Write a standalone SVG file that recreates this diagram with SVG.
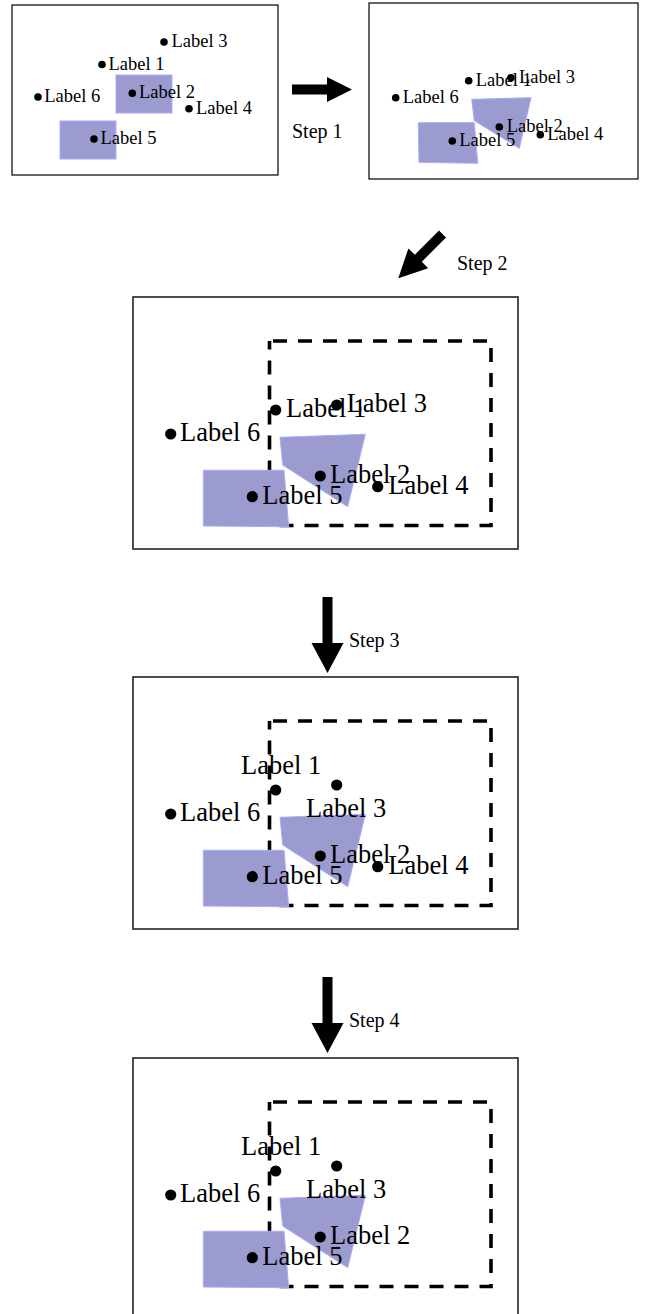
<svg xmlns="http://www.w3.org/2000/svg" width="649" height="1314" viewBox="0 0 649 1314">
<style>
.frame{fill:#fff;stroke:#000;stroke-width:1.2}
.frameL{fill:#fff;stroke:#222;stroke-width:1.6}
.area{fill:#9b9bd0;stroke:#aaaaff;stroke-width:1}
.dash{fill:none;stroke:#000;stroke-width:3.6;stroke-dasharray:14 11;stroke-dashoffset:21.5}
.s{font-family:"Liberation Serif","Times New Roman",serif;font-size:18.5px;fill:#000}
.b{font-family:"Liberation Serif","Times New Roman",serif;font-size:26.5px;fill:#000}
.st{font-family:"Liberation Serif","Times New Roman",serif;font-size:20px;fill:#000}
.arrow{fill:#000}
</style>
<rect width="649" height="1314" fill="#fff"/>

<g id="panel1">
<rect class="frame" x="12" y="5" width="266" height="170"/>
<rect class="area" x="116" y="75" width="56" height="38"/>
<rect class="area" x="60" y="121" width="56" height="38"/>
<circle cx="164" cy="42" r="3.8"/><text class="s" x="171.5" y="47">Label 3</text>
<circle cx="102" cy="64.5" r="3.8"/><text class="s" x="108.5" y="69.5">Label 1</text>
<circle cx="38" cy="97" r="3.8"/><text class="s" x="44.3" y="102">Label 6</text>
<circle cx="132.3" cy="93.3" r="3.8"/><text class="s" x="139" y="98">Label 2</text>
<circle cx="189" cy="108.7" r="3.8"/><text class="s" x="196" y="113.5">Label 4</text>
<circle cx="94" cy="139" r="3.8"/><text class="s" x="100.5" y="143.5">Label 5</text>
</g>

<g id="panel2">
<rect class="frame" x="369" y="3" width="269" height="176"/>
<polygon class="area" points="471.7,99.3 531,97.7 519.3,148.3 474.3,120.7"/>
<polygon class="area" points="418.3,122.7 474.3,122.7 477.7,163.3 419,162.3"/>
<circle cx="468.7" cy="80.7" r="3.8"/><text class="s" x="475.7" y="85.5">Label 1</text>
<circle cx="511" cy="77.7" r="3.8"/><text class="s" x="519" y="82.5">Label 3</text>
<circle cx="395.7" cy="97.7" r="3.8"/><text class="s" x="402.7" y="102.5">Label 6</text>
<circle cx="499.3" cy="127" r="3.8"/><text class="s" x="506.7" y="131.5">Label 2</text>
<circle cx="540.3" cy="134.7" r="3.8"/><text class="s" x="547.3" y="139.5">Label 4</text>
<circle cx="452.3" cy="141" r="3.8"/><text class="s" x="459.3" y="146">Label 5</text>
</g>

<g id="panel3">
<rect class="frameL" x="133" y="297" width="385" height="252"/>
<rect class="dash" x="269.5" y="341" width="221.5" height="184.5"/>
<polygon class="area" points="280,437.3 365.3,434.3 347.7,506.7 282.7,465"/>
<polygon class="area" points="203.3,470.3 284,470.3 288.7,526.7 203.3,526"/>
<circle cx="275.7" cy="410" r="5.6"/><text class="b" x="286" y="417">Label 1</text>
<circle cx="336.7" cy="405" r="5.6"/><text class="b" x="346.7" y="412">Label 3</text>
<circle cx="170.7" cy="434" r="5.6"/><text class="b" x="180" y="441">Label 6</text>
<circle cx="320.3" cy="476" r="5.6"/><text class="b" x="330" y="483">Label 2</text>
<circle cx="377.7" cy="486.7" r="5.6"/><text class="b" x="388.3" y="493.5">Label 4</text>
<circle cx="252.3" cy="496.7" r="5.6"/><text class="b" x="262.3" y="503.5">Label 5</text>
</g>

<g id="panel4" transform="translate(0,380)">
<rect class="frameL" x="133" y="297" width="385" height="252"/>
<rect class="dash" x="269.5" y="341" width="221.5" height="184.5"/>
<polygon class="area" points="280,437.3 365.3,434.3 347.7,506.7 282.7,465"/>
<polygon class="area" points="203.3,470.3 284,470.3 288.7,526.7 203.3,526"/>
<circle cx="275.7" cy="410" r="5.6"/><text class="b" x="241" y="394">Label 1</text>
<circle cx="336.7" cy="405" r="5.6"/><text class="b" x="306" y="436.7">Label 3</text>
<circle cx="170.7" cy="434" r="5.6"/><text class="b" x="180" y="441">Label 6</text>
<circle cx="320.3" cy="476" r="5.6"/><text class="b" x="330" y="483">Label 2</text>
<circle cx="377.7" cy="486.7" r="5.6"/><text class="b" x="388.3" y="493.5">Label 4</text>
<circle cx="252.3" cy="496.7" r="5.6"/><text class="b" x="262.3" y="503.5">Label 5</text>
</g>

<g id="panel5" transform="translate(0,761)">
<rect class="frameL" x="133" y="297" width="385" height="262"/>
<rect class="dash" x="269.5" y="341" width="221.5" height="184.5"/>
<polygon class="area" points="280,437.3 365.3,434.3 347.7,506.7 282.7,465"/>
<polygon class="area" points="203.3,470.3 284,470.3 288.7,526.7 203.3,526"/>
<circle cx="275.7" cy="410" r="5.6"/><text class="b" x="241" y="394">Label 1</text>
<circle cx="336.7" cy="405" r="5.6"/><text class="b" x="306" y="436.7">Label 3</text>
<circle cx="170.7" cy="434" r="5.6"/><text class="b" x="180" y="441">Label 6</text>
<circle cx="320.3" cy="476" r="5.6"/><text class="b" x="330" y="483">Label 2</text>
<circle cx="252.3" cy="496.7" r="5.6"/><text class="b" x="262.3" y="503.5">Label 5</text>
</g>

<g id="connectors">
<g id="step1">
<polygon class="arrow" points="292,84.5 327,84.5 327,77 352,89.5 327,102 327,94.5 292,94.5"/>
<text class="st" x="292" y="138">Step 1</text>
</g>
<g id="step2">
<polygon class="arrow" points="446,237.5 439,230.5 414.8,254.8 408.4,248.4 398.3,278.3 428.2,268.2 421.8,261.8"/>
<text class="st" x="457" y="270">Step 2</text>
</g>
<g id="step3">
<polygon class="arrow" points="322.5,597 332.5,597 332.5,643 343.5,643 327.5,673 311.5,643 322.5,643"/>
<text class="st" x="349" y="647">Step 3</text>
</g>
<g id="step4">
<polygon class="arrow" points="322.5,977 332.5,977 332.5,1023 343.5,1023 327.5,1053 311.5,1023 322.5,1023"/>
<text class="st" x="349" y="1027">Step 4</text>
</g>
</g>
</svg>
